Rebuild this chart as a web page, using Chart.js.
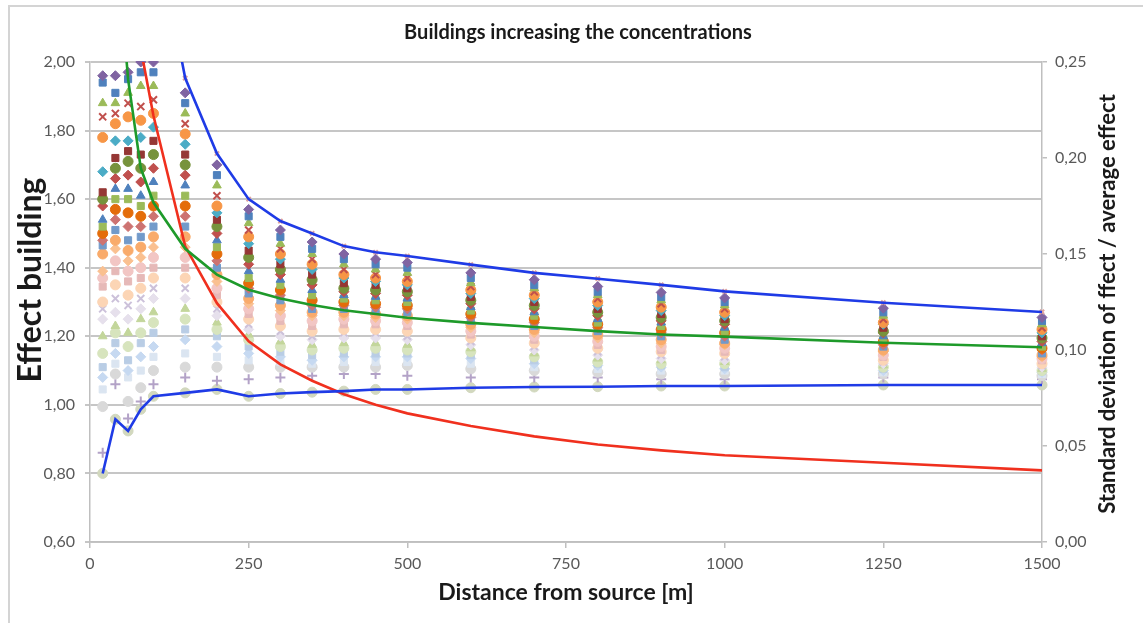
<!DOCTYPE html>
<html>
<head>
<meta charset="utf-8">
<title>Buildings increasing the concentrations</title>
<script src="https://cdn.jsdelivr.net/npm/chart.js@4.4.1/dist/chart.umd.min.js"></script>
<style>
  html, body { margin: 0; padding: 0; background: #ffffff; }
  #wrap { position: relative; width: 1143px; height: 623px; }
</style>
</head>
<body>
<div id="wrap"><canvas id="chart" width="1143" height="623"></canvas></div>
<script>
// Receptor distances from the source [m]
const distances = [20, 40, 60, 80, 100, 150, 200, 250, 300, 350, 400, 450, 500, 600, 700, 800, 900, 1000, 1250, 1500];

// Building effect of every configuration, one list per distance (sorted high to low)
const effectsAt20   = [3.40, 1.96, 1.94, 1.88, 1.84, 1.78, 1.68, 1.62, 1.60, 1.58, 1.54, 1.52, 1.50, 1.48, 1.465, 1.44, 1.39, 1.37, 1.345, 1.30, 1.28, 1.25, 1.20, 1.15, 1.11, 1.08, 1.045, 0.995, 0.86, 0.80];
const effectsAt40   = [3.10, 1.96, 1.91, 1.88, 1.85, 1.82, 1.77, 1.72, 1.69, 1.66, 1.63, 1.60, 1.57, 1.54, 1.51, 1.48, 1.455, 1.42, 1.39, 1.35, 1.31, 1.27, 1.23, 1.21, 1.18, 1.15, 1.12, 1.09, 1.06, 0.958];
const effectsAt60   = [2.90, 1.97, 1.95, 1.91, 1.88, 1.84, 1.77, 1.74, 1.71, 1.67, 1.63, 1.60, 1.56, 1.52, 1.48, 1.45, 1.42, 1.39, 1.36, 1.32, 1.29, 1.25, 1.21, 1.17, 1.13, 1.10, 1.08, 1.01, 0.96, 0.924];
const effectsAt80   = [2.70, 2.00, 1.97, 1.93, 1.87, 1.83, 1.78, 1.73, 1.69, 1.65, 1.61, 1.58, 1.55, 1.52, 1.49, 1.46, 1.43, 1.40, 1.37, 1.34, 1.31, 1.28, 1.25, 1.21, 1.18, 1.14, 1.10, 1.05, 1.01, 0.987];
const effectsAt100  = [2.43, 2.00, 1.97, 1.93, 1.89, 1.85, 1.81, 1.77, 1.73, 1.69, 1.65, 1.61, 1.58, 1.55, 1.52, 1.49, 1.46, 1.43, 1.40, 1.37, 1.34, 1.31, 1.27, 1.24, 1.21, 1.17, 1.14, 1.10, 1.06, 1.025];
const effectsAt150  = [1.953, 1.91, 1.88, 1.85, 1.82, 1.79, 1.76, 1.73, 1.70, 1.67, 1.64, 1.61, 1.58, 1.55, 1.52, 1.49, 1.46, 1.43, 1.40, 1.37, 1.34, 1.31, 1.28, 1.25, 1.22, 1.19, 1.15, 1.11, 1.08, 1.035];
const effectsAt200  = [1.733, 1.70, 1.67, 1.64, 1.61, 1.58, 1.56, 1.54, 1.52, 1.50, 1.48, 1.46, 1.44, 1.42, 1.40, 1.38, 1.36, 1.34, 1.32, 1.30, 1.28, 1.26, 1.24, 1.22, 1.20, 1.17, 1.14, 1.11, 1.07, 1.045];
const effectsAt250  = [1.600, 1.57, 1.55, 1.53, 1.51, 1.49, 1.47, 1.45, 1.43, 1.41, 1.39, 1.37, 1.355, 1.34, 1.325, 1.31, 1.295, 1.28, 1.265, 1.25, 1.235, 1.22, 1.205, 1.19, 1.17, 1.15, 1.13, 1.11, 1.075, 1.025];
const effectsAt300  = [1.536, 1.51, 1.49, 1.47, 1.455, 1.44, 1.425, 1.41, 1.395, 1.38, 1.365, 1.35, 1.335, 1.32, 1.305, 1.29, 1.275, 1.26, 1.245, 1.23, 1.215, 1.20, 1.185, 1.17, 1.155, 1.14, 1.125, 1.11, 1.08, 1.033];
const effectsAt350  = [1.500, 1.475, 1.455, 1.44, 1.425, 1.41, 1.395, 1.38, 1.365, 1.35, 1.335, 1.32, 1.305, 1.29, 1.28, 1.27, 1.26, 1.245, 1.23, 1.215, 1.20, 1.19, 1.175, 1.16, 1.145, 1.13, 1.12, 1.11, 1.085, 1.037];
const effectsAt400  = [1.463, 1.44, 1.425, 1.41, 1.395, 1.38, 1.37, 1.355, 1.34, 1.33, 1.32, 1.31, 1.30, 1.29, 1.28, 1.27, 1.26, 1.25, 1.235, 1.22, 1.21, 1.195, 1.18, 1.165, 1.15, 1.14, 1.125, 1.11, 1.09, 1.040];
const effectsAt450  = [1.445, 1.425, 1.41, 1.395, 1.38, 1.37, 1.36, 1.35, 1.335, 1.325, 1.315, 1.305, 1.295, 1.285, 1.275, 1.265, 1.255, 1.245, 1.235, 1.22, 1.21, 1.195, 1.18, 1.165, 1.15, 1.14, 1.125, 1.11, 1.09, 1.045];
const effectsAt500  = [1.434, 1.415, 1.40, 1.385, 1.37, 1.36, 1.35, 1.34, 1.33, 1.32, 1.31, 1.30, 1.29, 1.28, 1.27, 1.26, 1.25, 1.24, 1.23, 1.215, 1.20, 1.19, 1.175, 1.16, 1.15, 1.14, 1.125, 1.115, 1.085, 1.045];
const effectsAt600  = [1.409, 1.385, 1.37, 1.355, 1.345, 1.335, 1.325, 1.315, 1.305, 1.295, 1.285, 1.275, 1.265, 1.255, 1.245, 1.235, 1.225, 1.215, 1.205, 1.195, 1.185, 1.175, 1.165, 1.155, 1.145, 1.135, 1.12, 1.105, 1.08, 1.050];
const effectsAt700  = [1.385, 1.365, 1.35, 1.34, 1.33, 1.32, 1.31, 1.30, 1.29, 1.28, 1.27, 1.26, 1.25, 1.24, 1.23, 1.22, 1.21, 1.20, 1.19, 1.18, 1.17, 1.16, 1.15, 1.14, 1.13, 1.12, 1.11, 1.10, 1.08, 1.052];
const effectsAt800  = [1.368, 1.345, 1.33, 1.32, 1.31, 1.30, 1.29, 1.28, 1.27, 1.26, 1.25, 1.24, 1.235, 1.225, 1.215, 1.205, 1.195, 1.185, 1.175, 1.165, 1.155, 1.145, 1.135, 1.125, 1.12, 1.115, 1.105, 1.095, 1.08, 1.053];
const effectsAt900  = [1.350, 1.328, 1.315, 1.305, 1.295, 1.285, 1.275, 1.265, 1.255, 1.245, 1.24, 1.23, 1.22, 1.21, 1.20, 1.19, 1.18, 1.17, 1.16, 1.155, 1.145, 1.135, 1.13, 1.12, 1.115, 1.11, 1.10, 1.09, 1.075, 1.055];
const effectsAt1000 = [1.331, 1.312, 1.30, 1.29, 1.28, 1.27, 1.26, 1.25, 1.245, 1.235, 1.225, 1.215, 1.21, 1.20, 1.19, 1.18, 1.175, 1.165, 1.155, 1.15, 1.14, 1.13, 1.125, 1.12, 1.11, 1.105, 1.10, 1.09, 1.075, 1.055];
const effectsAt1250 = [1.298, 1.282, 1.27, 1.26, 1.25, 1.24, 1.235, 1.225, 1.215, 1.21, 1.20, 1.19, 1.185, 1.175, 1.17, 1.16, 1.155, 1.145, 1.14, 1.13, 1.125, 1.12, 1.115, 1.11, 1.105, 1.10, 1.095, 1.09, 1.08, 1.058];
const effectsAt1500 = [1.271, 1.255, 1.245, 1.235, 1.225, 1.22, 1.21, 1.20, 1.195, 1.185, 1.18, 1.17, 1.165, 1.16, 1.15, 1.145, 1.14, 1.135, 1.13, 1.12, 1.115, 1.11, 1.105, 1.10, 1.098, 1.095, 1.09, 1.085, 1.075, 1.058];

// Average effect per distance (left axis)
const averageEffect = [2.60, 2.40, 1.95, 1.69, 1.59, 1.455, 1.38, 1.336, 1.31, 1.291, 1.276, 1.265, 1.254, 1.239, 1.227, 1.215, 1.205, 1.199, 1.181, 1.168];
// Standard deviation of effect / average effect (right axis)
const relativeStdDev = [0.40, 0.35, 0.30, 0.257, 0.222, 0.154, 0.1244, 0.1045, 0.0925, 0.084, 0.077, 0.0715, 0.067, 0.0604, 0.0550, 0.0508, 0.0477, 0.0452, 0.0413, 0.0373];

// Axis ticks
const xTickValues = [0, 250, 500, 750, 1000, 1250, 1500];
const leftTickValues = [0.6, 0.8, 1.0, 1.2, 1.4, 1.6, 1.8, 2.0];
const rightTickValues = [0, 0.05, 0.10, 0.15, 0.20, 0.25];

// Texts
const chartTitle = 'Buildings increasing the concentrations';
const xTitle = 'Distance from source [m]';
const leftTitle = 'Effect building';
const rightTitle = 'Standard deviation of ffect / average effect';

const effectColumns = [effectsAt20, effectsAt40, effectsAt60, effectsAt80, effectsAt100, effectsAt150,
  effectsAt200, effectsAt250, effectsAt300, effectsAt350, effectsAt400, effectsAt450, effectsAt500,
  effectsAt600, effectsAt700, effectsAt800, effectsAt900, effectsAt1000, effectsAt1250, effectsAt1500];

// Envelope of all configurations
const maxEffect = effectColumns.map(col => Math.max(...col));
const minEffect = effectColumns.map(col => Math.min(...col));

// Marker look of every configuration series
const markerColors = ['#DDA09E', '#8064A2', '#4F81BD', '#9BBB59', '#C0504D', '#F79646', '#4BACC6',
  '#953735', '#77933C', '#C0504D', '#4F81BD', '#9BBB59', '#E46C0A', '#CD7371', '#729ACA',
  '#F9AB6B', '#FAC090', '#F2C6C4', '#E6B9B8', '#FCD5B5', '#CCC1DA', '#E6E0EC', '#C3D69B',
  '#D7E4BD', '#B9CDE5', '#C6D9F1', '#DBE5F1', '#D9D9D9', '#B3A2C7', '#D2D8BE'];
const markerShapes = ['crossRot', 'rectRot', 'rect', 'triangle', 'crossRot', 'circle', 'rectRot',
  'rect', 'circle', 'rectRot', 'triangle', 'rect', 'circle', 'rectRot', 'rect',
  'circle', 'rectRot', 'circle', 'rect', 'circle', 'crossRot', 'rectRot', 'triangle',
  'circle', 'rect', 'rectRot', 'rect', 'circle', 'cross', 'circle'];

const strokeShapes = new Set(['cross', 'crossRot', 'star']);

const caseDatasets = markerColors.map((color, k) => {
  const shape = markerShapes[k];
  const stroke = strokeShapes.has(shape);
  return {
    label: 'Configuration ' + (k + 1),
    data: distances.map((d, i) => ({ x: d, y: effectColumns[i][k] })),
    showLine: false,
    pointStyle: shape,
    pointRadius: k === 0 ? 3 : 5,
    backgroundColor: color,
    borderColor: color,
    borderWidth: stroke ? 2 : 1,
    yAxisID: 'y',
    order: 2,
    clip: { left: 7, right: 7, top: 1, bottom: 0 }
  };
});

const lineStyle = (color) => ({
  showLine: true, pointRadius: 0, borderColor: color, backgroundColor: color,
  borderWidth: 2.6, tension: 0, order: 0
});

const lineDatasets = [
  Object.assign({ label: 'Maximum effect', yAxisID: 'y',
    data: distances.map((d, i) => ({ x: d, y: maxEffect[i] })) }, lineStyle('#1F3BE6')),
  Object.assign({ label: 'Minimum effect', yAxisID: 'y',
    data: distances.map((d, i) => ({ x: d, y: minEffect[i] })) }, lineStyle('#1F3BE6')),
  Object.assign({ label: 'Average effect', yAxisID: 'y',
    data: distances.map((d, i) => ({ x: d, y: averageEffect[i] })) }, lineStyle('#1E9A2A')),
  Object.assign({ label: 'Std. deviation / average', yAxisID: 'y2',
    data: distances.map((d, i) => ({ x: d, y: relativeStdDev[i] })) }, lineStyle('#F0301E'))
];

const FONT = 'Lato';
const commaFmt = v => Number(v).toFixed(2).replace('.', ',');

// Outer frame, chart title and both vertical axis titles
const decorations = {
  id: 'decorations',
  beforeDraw(chart) {
    const ctx = chart.ctx;
    ctx.save();
    ctx.fillStyle = '#ffffff';
    ctx.fillRect(0, 0, chart.width, chart.height);
    ctx.strokeStyle = '#D4D4D4';
    ctx.lineWidth = 2;
    ctx.strokeRect(9, 6, chart.width + 20, chart.height + 20);
    ctx.restore();
  },
  afterDraw(chart) {
    const { ctx, chartArea } = chart;
    ctx.save();
    ctx.fillStyle = '#1a1a1a';
    ctx.textAlign = 'center';
    ctx.textBaseline = 'middle';
    ctx.font = 'bold 20px ' + FONT;
    ctx.fillText(chartTitle, 578, 33);

    ctx.save();
    ctx.translate(31, 280);
    ctx.rotate(-Math.PI / 2);
    ctx.font = 'bold 32px ' + FONT;
    ctx.fillText(leftTitle, 0, 0);
    ctx.restore();

    ctx.translate(chartArea.right + 66, (chartArea.top + chartArea.bottom) / 2 + 2);
    ctx.rotate(-Math.PI / 2);
    ctx.font = 'bold 22px ' + FONT;
    ctx.fillText(rightTitle, 0, 0);
    ctx.restore();
  }
};

new Chart(document.getElementById('chart'), {
  type: 'scatter',
  data: { datasets: [...lineDatasets, ...caseDatasets] },
  options: {
    responsive: false,
    animation: false,
    devicePixelRatio: 1,
    layout: { padding: { top: 62, left: 0, right: 0, bottom: 0 } },
    plugins: { legend: { display: false }, tooltip: { enabled: false }, title: { display: false } },
    scales: {
      x: {
        type: 'linear', position: 'bottom', min: 0, max: 1500,
        afterBuildTicks: s => { s.ticks = xTickValues.map(v => ({ value: v })); },
        afterFit: s => { s.height = 81; },
        ticks: { font: { family: FONT, size: 16 }, color: '#595959', padding: 6, maxRotation: 0,
                 callback: v => String(v) },
        grid: { drawOnChartArea: false, drawTicks: true, tickLength: 6, color: '#BFBFBF', lineWidth: 1.5 },
        border: { display: true, color: '#BFBFBF', width: 1.5 },
        title: { display: true, text: xTitle, color: '#1a1a1a',
                 font: { family: FONT, size: 23, weight: 'bold' }, padding: { top: 0, bottom: 17 } }
      },
      y: {
        type: 'linear', position: 'left', min: 0.6, max: 2.0,
        afterBuildTicks: s => { s.ticks = leftTickValues.map(v => ({ value: v })); },
        afterFit: s => { s.width = 90; },
        ticks: { font: { family: FONT, size: 16 }, color: '#595959', padding: 10, callback: commaFmt },
        grid: { drawOnChartArea: true, drawTicks: true, tickLength: 5, color: '#C6C6C6', lineWidth: 2 },
        border: { display: true, color: '#BFBFBF', width: 1.5 },
        title: { display: false }
      },
      y2: {
        type: 'linear', position: 'right', min: 0, max: 0.25,
        afterBuildTicks: s => { s.ticks = rightTickValues.map(v => ({ value: v })); },
        afterFit: s => { s.width = 101; },
        ticks: { font: { family: FONT, size: 16 }, color: '#595959', padding: 8, callback: commaFmt },
        grid: { drawOnChartArea: false, drawTicks: true, tickLength: 5, color: '#BFBFBF', lineWidth: 1.5 },
        border: { display: true, color: '#BFBFBF', width: 1.5 },
        title: { display: false }
      }
    }
  },
  plugins: [decorations]
});
</script>
</body>
</html>
